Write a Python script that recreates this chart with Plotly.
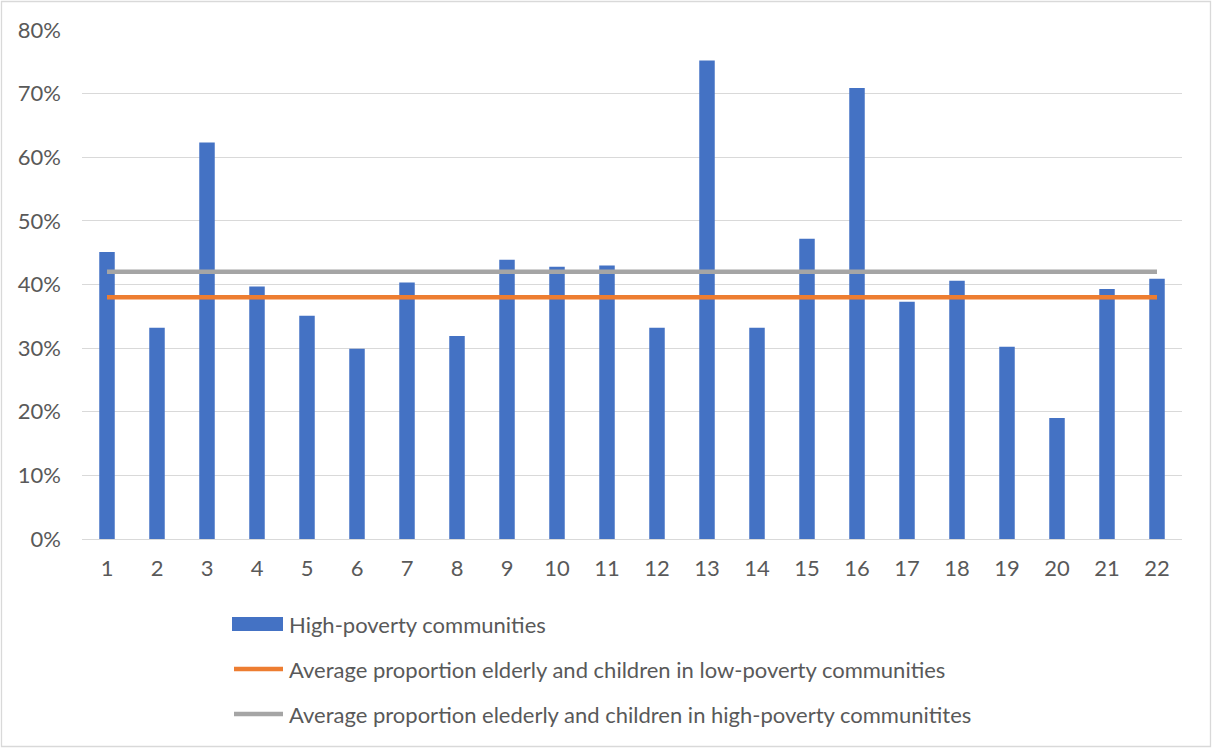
import plotly.graph_objects as go

# Community index and share of elderly + children in each high-poverty community
communities = [str(i) for i in range(1, 23)]
high_poverty_share = [0.451, 0.332, 0.623, 0.397, 0.351, 0.299, 0.403, 0.319,
                      0.439, 0.428, 0.430, 0.332, 0.752, 0.332, 0.472, 0.709,
                      0.373, 0.406, 0.302, 0.190, 0.393, 0.409]

# Reference averages drawn as horizontal lines
low_poverty_avg = 0.38
high_poverty_avg = 0.42

y_ticks = [0, 0.1, 0.2, 0.3, 0.4, 0.5, 0.6, 0.7, 0.8]
y_tick_labels = ["0%", "10%", "20%", "30%", "40%", "50%", "60%", "70%", "80%"]

legend_labels = [
    "High-poverty communities",
    "Average proportion elderly and children in low-poverty communities",
    "Average proportion elederly and children in high-poverty communitites",
]

BLUE = "#4472c4"
ORANGE = "#ed7d31"
GREY = "#a5a5a5"
TEXT = "#595959"
FONT = "Lato"
FS = 22

W, H = 1212, 748
L, R, T, B = 82, 30, 30, 209
PW, PH = W - L - R, H - T - B


def px_x(x):
    return (x - L) / PW


def px_y(y):
    return (H - B - y) / PH


fig = go.Figure()
fig.add_trace(go.Bar(x=communities, y=high_poverty_share, marker_color=BLUE,
                     marker_line_width=0, name=legend_labels[0]))
# grey average sits beneath the orange one
fig.add_trace(go.Scatter(x=communities, y=[high_poverty_avg] * len(communities),
                         mode="lines", line=dict(color=GREY, width=4.5),
                         name=legend_labels[2]))
fig.add_trace(go.Scatter(x=communities, y=[low_poverty_avg] * len(communities),
                         mode="lines", line=dict(color=ORANGE, width=4.5),
                         name=legend_labels[1]))

# Legend drawn by hand below the plot
legend_rows = [624, 669, 714]
shapes = [
    dict(type="rect", xref="paper", yref="paper", x0=px_x(1.5), x1=px_x(1210.5),
         y0=px_y(746.5), y1=px_y(1.5), line=dict(color="#d9d9d9", width=1.3),
         fillcolor="rgba(0,0,0,0)", layer="below"),
    dict(type="rect", xref="paper", yref="paper", x0=px_x(232), x1=px_x(283),
         y0=px_y(legend_rows[0] + 7), y1=px_y(legend_rows[0] - 7),
         fillcolor=BLUE, line=dict(width=0)),
    dict(type="line", xref="paper", yref="paper", x0=px_x(234), x1=px_x(283),
         y0=px_y(legend_rows[1]), y1=px_y(legend_rows[1]),
         line=dict(color=ORANGE, width=4.5)),
    dict(type="line", xref="paper", yref="paper", x0=px_x(234), x1=px_x(283),
         y0=px_y(legend_rows[2]), y1=px_y(legend_rows[2]),
         line=dict(color=GREY, width=4.5)),
]
annotations = [
    dict(xref="paper", yref="paper", x=px_x(287), y=px_y(row), text=label,
         showarrow=False, xanchor="left", yanchor="middle",
         font=dict(family=FONT, size=FS, color=TEXT))
    for row, label in zip(legend_rows, legend_labels)
]

fig.update_layout(
    width=W, height=H,
    margin=dict(l=L, r=R, t=T, b=B),
    paper_bgcolor="white", plot_bgcolor="white",
    showlegend=False,
    bargap=0.69,
    shapes=shapes,
    annotations=annotations,
    font=dict(family=FONT, size=FS, color=TEXT),
)
fig.update_xaxes(type="category", showgrid=False, showline=False, ticks="",
                 tickfont=dict(family=FONT, size=FS, color=TEXT),
                 ticklabelstandoff=14)
fig.update_yaxes(range=[0, 0.8], tickvals=y_ticks, ticktext=y_tick_labels,
                 showgrid=True, gridcolor="#d9d9d9", gridwidth=1.3,
                 zeroline=True, zerolinecolor="#d9d9d9", zerolinewidth=1.3,
                 showline=False, ticks="",
                 tickfont=dict(family=FONT, size=FS, color=TEXT),
                 ticklabelstandoff=20)

fig.write_html("out.html")
